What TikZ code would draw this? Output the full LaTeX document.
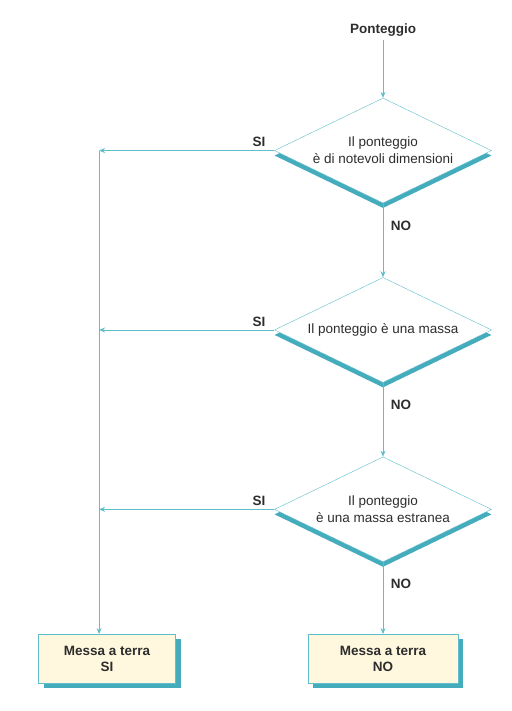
\documentclass[tikz,border=0pt]{standalone}
\usepackage{fontspec}
\setmainfont{Liberation Sans}
\usetikzlibrary{shapes.geometric, arrows.meta, positioning, shadows}
\definecolor{flowteal}{RGB}{95,190,202}
\definecolor{shadeteal}{RGB}{68,172,188}
\definecolor{boxcream}{RGB}{255,248,222}
\definecolor{inkgray}{RGB}{45,45,45}

\begin{document}
\begin{tikzpicture}[
  x=1pt, y=-1pt,
  node distance=74pt and 132pt,
  font=\fontsize{13.5}{17}\selectfont,
  decision/.style={diamond, aspect=2, draw=flowteal, fill=white, inner sep=0pt, text=inkgray,
                   minimum width=217pt, minimum height=105pt, align=center,
                   drop shadow={shadow xshift=0pt, shadow yshift=-5pt, fill=shadeteal, opacity=1}},
  endbox/.style={rectangle, draw=flowteal, fill=boxcream, minimum height=49pt, text=inkgray,
                 align=center, font=\fontsize{13.5}{16}\selectfont\bfseries,
                 drop shadow={shadow xshift=5pt, shadow yshift=-5pt, fill=shadeteal, opacity=1}},
  lbl/.style={text=inkgray, font=\fontsize{13.5}{16}\selectfont\bfseries},
  arrow/.style={-{Stealth[length=6pt, width=5pt]}, flowteal, line width=0.9pt}
]
  \useasboundingbox (0,0) rectangle (511,711);

  \node[lbl] (start) at (383,30) {Ponteggio};
  \node[decision, below=58pt of start] (size)    {Il ponteggio\\è di notevoli dimensioni};
  \node[decision, below=of size]       (mass)    {Il ponteggio è una massa};
  \node[decision, below=of mass]       (foreign) {Il ponteggio\\è una massa estranea};
  \node[endbox, minimum width=150pt, below=72pt of foreign] (earthno)  {Messa a terra\\NO};
  \node[endbox, minimum width=137pt, left=of earthno]       (earthyes) {Messa a terra\\SI};

  \coordinate (trunk) at ([xshift=-8pt]earthyes.north);
  \coordinate (j1) at (size.west -| trunk);
  \coordinate (j2) at (mass.west -| trunk);
  \coordinate (j3) at (foreign.west -| trunk);

  \draw[arrow] (start) -- (size);
  \draw[arrow] (size) -- node[lbl, right=4pt, pos=0.3] {NO} (mass);
  \draw[arrow] (mass) -- node[lbl, right=4pt, pos=0.3] {NO} (foreign);
  \draw[arrow] (foreign) -- node[lbl, right=4pt, pos=0.3] {NO} (earthno);

  \draw[arrow] (size.west)    -- node[lbl, above left=0pt, pos=0.03] {SI} (j1);
  \draw[arrow] (mass.west)    -- node[lbl, above left=0pt, pos=0.03] {SI} (j2);
  \draw[arrow] (foreign.west) -- node[lbl, above left=0pt, pos=0.03] {SI} (j3);
  \draw[arrow] (j1) -- (trunk);
\end{tikzpicture}
\end{document}
